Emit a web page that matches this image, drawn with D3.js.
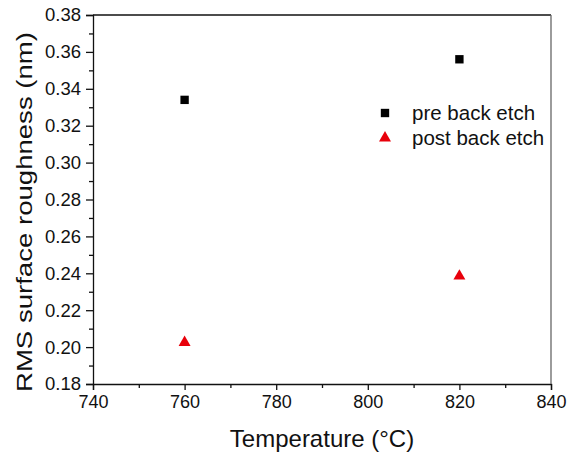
<!DOCTYPE html>
<html>
<head>
<meta charset="utf-8">
<script src="https://cdn.jsdelivr.net/npm/d3@7"></script>
<style>
  body { margin: 0; background: #fff; }
  svg text { font-family: "Liberation Sans", Arial, sans-serif; fill: #111; }
</style>
</head>
<body>
<svg id="chart" width="578" height="455"></svg>
<script>
// data
var temps = [760, 820];
var preEtch = [0.334, 0.356];
var postEtch = [0.2025, 0.2385];
var xTicks = [740, 760, 780, 800, 820, 840];
var yTicks = [0.18, 0.20, 0.22, 0.24, 0.26, 0.28, 0.30, 0.32, 0.34, 0.36, 0.38];
var seriesNames = ["pre back etch", "post back etch"];

var plotL = 93, plotR = 551, plotT = 15, plotB = 384;

var svg = d3.select("#chart");

var x = d3.scaleLinear().domain([740, 840]).range([plotL, plotR]);
var y = d3.scaleLinear().domain([0.18, 0.38]).range([plotB, plotT]);

// minor ticks
var xMinor = d3.range(750, 840, 20);
var yMinor = d3.range(0.19, 0.38, 0.02);

svg.append("g")
    .attr("transform", "translate(0," + plotB + ")")
    .call(d3.axisBottom(x).tickValues(xMinor).tickSize(4).tickFormat(""))
    .call(function(g) { g.select(".domain").remove(); });

svg.append("g")
    .attr("transform", "translate(" + plotL + ",0)")
    .call(d3.axisLeft(y).tickValues(yMinor).tickSize(4).tickFormat(""))
    .call(function(g) { g.select(".domain").remove(); });

// main axes
var xAxis = svg.append("g")
    .attr("transform", "translate(0," + plotB + ")")
    .call(d3.axisBottom(x).tickValues(xTicks).tickSize(6).tickPadding(5).tickFormat(d3.format("d")));
xAxis.selectAll("text").style("font-size", "18px");

var yAxis = svg.append("g")
    .attr("transform", "translate(" + plotL + ",0)")
    .call(d3.axisLeft(y).tickValues(yTicks).tickSize(7).tickPadding(5).tickFormat(d3.format(".2f")));
yAxis.selectAll("text").style("font-size", "18.5px");

svg.selectAll(".domain, .tick line").attr("stroke", "#111").attr("stroke-width", 1.3);

// top and right frame
svg.append("line").attr("x1", plotL).attr("x2", plotR).attr("y1", plotT).attr("y2", plotT)
    .attr("stroke", "#111").attr("stroke-width", 1.3);
svg.append("line").attr("x1", plotR).attr("x2", plotR).attr("y1", plotT).attr("y2", plotB)
    .attr("stroke", "#666").attr("stroke-width", 1.3);

// axis titles
svg.append("text")
    .attr("x", 322)
    .attr("y", 447)
    .attr("text-anchor", "middle")
    .style("font-size", "24px")
    .text("Temperature (°C)");

svg.append("text")
    .attr("transform", "translate(32,212) rotate(-90)")
    .attr("text-anchor", "middle")
    .attr("textLength", 360)
    .attr("lengthAdjust", "spacingAndGlyphs")
    .style("font-size", "22px")
    .text("RMS surface roughness (nm)");

// markers
var square = d3.symbol().type(d3.symbolSquare).size(70);
var triangle = d3.symbol().type(d3.symbolTriangle).size(62);

svg.selectAll(".pre")
    .data(temps)
    .enter()
    .append("path")
    .attr("class", "pre")
    .attr("d", square)
    .attr("transform", function(d, i) { return "translate(" + x(d) + "," + y(preEtch[i]) + ")"; })
    .attr("fill", "#000");

svg.selectAll(".post")
    .data(temps)
    .enter()
    .append("path")
    .attr("class", "post")
    .attr("d", triangle)
    .attr("transform", function(d, i) { return "translate(" + x(d) + "," + y(postEtch[i]) + ")"; })
    .attr("fill", "#e8000b");

// legend
var legend = svg.append("g").attr("transform", "translate(385,113)");
legend.append("path").attr("d", square).attr("fill", "#000");
legend.append("path").attr("d", triangle).attr("transform", "translate(0,25)").attr("fill", "#e8000b");
legend.selectAll("text")
    .data(seriesNames)
    .enter()
    .append("text")
    .attr("x", 27)
    .attr("y", function(d, i) { return i * 25 + 7; })
    .style("font-size", "20.5px")
    .text(function(d) { return d; });
</script>
</body>
</html>
